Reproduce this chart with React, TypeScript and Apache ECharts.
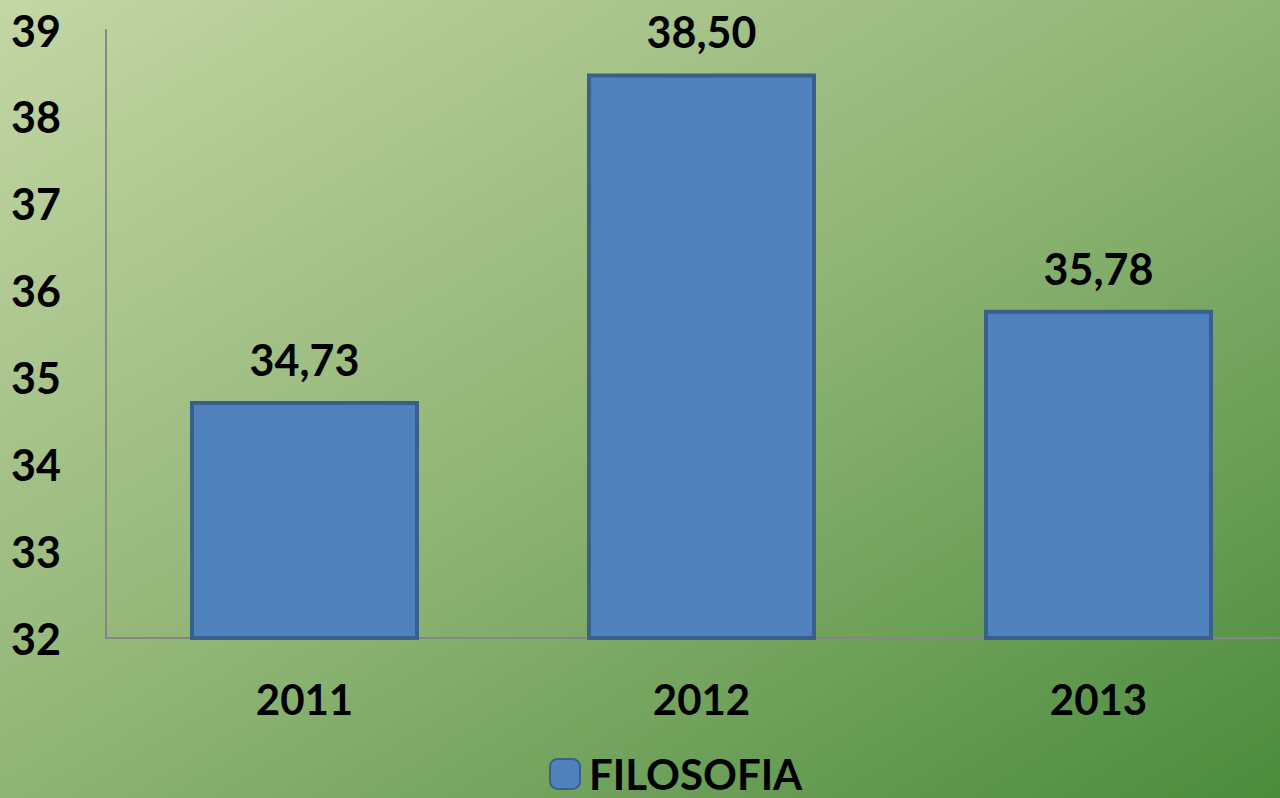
import React, { useEffect, useRef } from "react";
import * as echarts from "echarts";

const categories = ["2011", "2012", "2013"];
const seriesName = "FILOSOFIA";
const values = [34.73, 38.5, 35.78];
const yMin = 32;
const yMax = 39;

const FONT = "Lato";

export default function App() {
  const ref = useRef<HTMLDivElement>(null);
  useEffect(() => {
    if (!ref.current) return;
    const chart = echarts.init(ref.current, undefined, { renderer: "svg" });
    chart.setOption({
      animation: false,
      backgroundColor: new echarts.graphic.LinearGradient(0, 0, 1, 1, [
        { offset: 0, color: "#c4d6a4" },
        { offset: 0.5, color: "#8fb475" },
        { offset: 1, color: "#4a8b3b" },
      ]),
      grid: { left: 106, right: 0, top: 30, bottom: 160 },
      legend: {
        bottom: -2,
        left: 544,
        itemWidth: 30,
        itemHeight: 30,
        itemGap: 10,
        textStyle: { fontFamily: FONT, fontWeight: "bold", fontSize: 42, color: "#000", padding: [0, 0, 0, 4] },
        data: [seriesName],
      },
      xAxis: {
        type: "category",
        data: categories,
        axisLine: { lineStyle: { color: "#868686", width: 2 } },
        axisTick: { show: false },
        axisLabel: {
          margin: 40,
          fontFamily: FONT,
          fontWeight: "bold",
          fontSize: 42,
          color: "#000",
        },
      },
      yAxis: {
        type: "value",
        min: yMin,
        max: yMax,
        interval: 1,
        splitLine: { show: false },
        axisLine: { show: true, lineStyle: { color: "#868686", width: 2 } },
        axisTick: { show: false },
        axisLabel: {
          margin: 45,
          fontFamily: FONT,
          fontWeight: "bold",
          fontSize: 43,
          color: "#000",
        },
      },
      series: [
        {
          name: seriesName,
          type: "bar",
          data: values,
          barWidth: 229,
          itemStyle: { color: "#4f81bd", borderColor: "#3a5f8c", borderWidth: 4 },
          label: {
            show: true,
            position: "top",
            distance: 20,
            fontFamily: FONT,
            fontWeight: "bold",
            fontSize: 43,
            color: "#000",
            formatter: (p: any) => p.value.toFixed(2).replace(".", ","),
          },
        },
      ],
    });
    return () => chart.dispose();
  }, []);
  return (
    <div
      style={{ position: "absolute", left: 0, top: 0, width: 1280, height: 798, overflow: "hidden" }}
    >
      <div ref={ref} style={{ width: 1297, height: 798 }} />
    </div>
  );
}
